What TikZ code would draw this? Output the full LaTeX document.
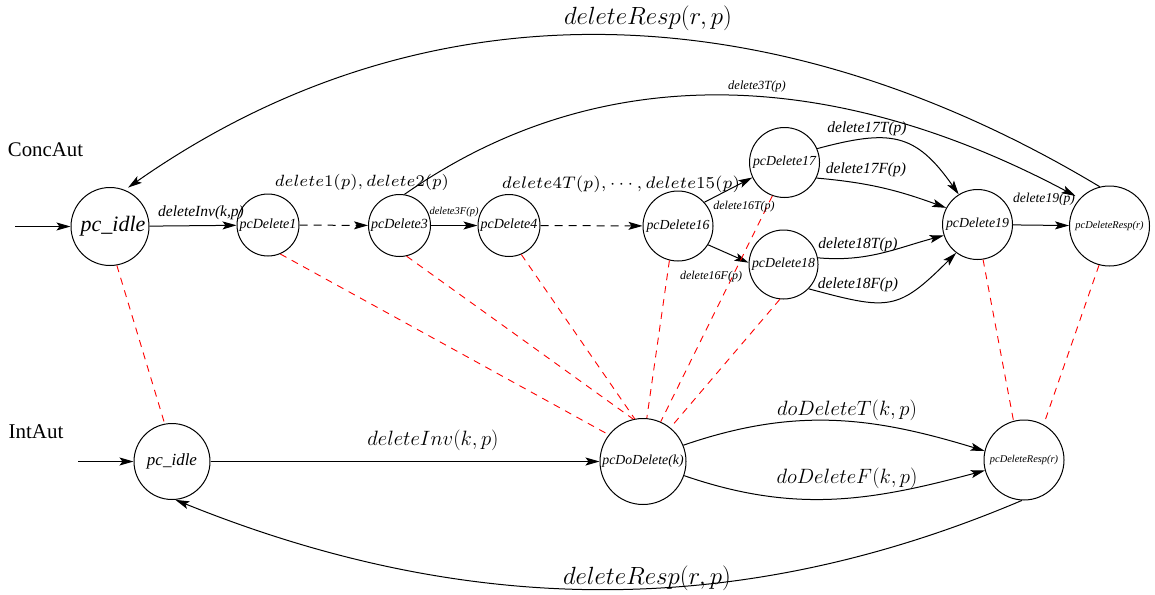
\documentclass[tikz,border=0pt]{standalone}
\usepackage[no-math]{fontspec}
\usepackage{graphicx}
\setmainfont{Liberation Serif}
\usetikzlibrary{arrows.meta}
\newcommand\fsz[1]{\fontsize{#1}{#1}\selectfont}
\begin{document}
\begin{tikzpicture}[x=1pt,y=-1pt,
  st/.style={circle,draw,line width=1pt,inner sep=0pt},
  tr/.style={-{Stealth[length=14pt,width=8pt,inset=3pt]},line width=1pt},
  dsh/.style={tr,dash pattern=on 8pt off 6pt},
  rd/.style={red,line width=0.9pt,dash pattern=on 7pt off 6pt},
  lb/.style={inner sep=0pt,font=\itshape}]
\useasboundingbox (0,0) rectangle (1155,594);
% states top
\node[st,minimum size=78pt] (i1) at (110,226.5) {\makebox[0pt]{\fsz{22}\itshape\hspace{6pt}pc\_idle}};
\node[st,minimum size=62pt] (d1) at (268,225) {\makebox[0pt]{\fsz{14}\itshape pcDelete1}};
\node[st,minimum size=62pt] (d3) at (399.5,225.5) {\makebox[0pt]{\fsz{14}\itshape pcDelete3}};
\node[st,minimum size=62pt] (d4) at (509,225.5) {\makebox[0pt]{\fsz{14}\itshape pcDelete4}};
\node[st,minimum size=70pt] (d16) at (678,226) {\makebox[0pt]{\fsz{13.8}\itshape pcDelete16}};
\node[st,minimum size=70pt] (d17) at (784.5,162.5) {\makebox[0pt]{\fsz{13.8}\itshape pcDelete17}};
\node[st,minimum size=69pt] (d18) at (783.5,264.5) {\makebox[0pt]{\fsz{13.8}\itshape pcDelete18}};
\node[st,minimum size=70pt] (d19) at (977.5,224.5) {\makebox[0pt]{\fsz{13.8}\itshape pcDelete19}};
\node[st,minimum size=80pt] (rt) at (1109.5,226) {\makebox[0pt]{\fsz{10.4}\itshape pcDeleteResp(r)}};
% states bottom
\node[st,minimum size=76pt] (i2) at (172,461.5) {\makebox[0pt]{\fsz{17}\itshape pc\_idle}};
\node[st,minimum size=86pt] (pd) at (643,461.5) {\makebox[0pt]{\fsz{13.8}\itshape pcDoDelete(k)}};
\node[st,minimum size=80pt] (rb) at (1024,460) {\makebox[0pt]{\fsz{10.4}\itshape pcDeleteResp(r)}};
% side labels
\node[inner sep=0pt,font=\fsz{20.8}] (ca) at (45.5,150) {ConcAut};
\node[inner sep=0pt,font=\fsz{21}] (ia) at (36,432) {IntAut};
% initial arrows
\coordinate (s1) at (15,226.5);
\coordinate (s2) at (78,461.5);
\draw[tr] (s1) -- (i1);
\draw[tr] (s2) -- (i2);
% top automaton edges
\draw[tr] (i1) -- (d1);
\draw[dsh] (d1) -- (d3);
\draw[tr] (d3) -- (d4);
\draw[dsh] (d4) -- (d16);
\draw[tr] (d16.42) -- (d17.205);
\draw[tr] (d16.-32) -- (d18.177);
\draw[tr] (d17.23) to[out=15,in=125,looseness=1.3] (d19.122);
\draw[tr] (d17.-26) to[out=-5,in=160] (d19.152);
\draw[tr] (d18.11) to[out=-5,in=195] (d19.198);
\draw[tr] (d18.-44) to[out=-15,in=225,looseness=1.4] (d19.233);
\draw[tr] (d19) -- (rt);
\draw[tr,shorten >=5pt] (d3.81) to[out=35,in=152,looseness=0.97] (rt.137);
\draw[tr,shorten >=4pt] (rt.104) to[out=149,in=35,looseness=0.98] (i1.68);
% bottom automaton edges
\draw[tr] (i2) -- (pd);
\draw[tr] (pd.22) to[out=19,in=163] (rb.167);
\draw[tr] (pd.-19) to[out=-19,in=195] (rb.195);
\draw[tr] (rb.-93) to[out=203,in=-22,looseness=0.94] (i2.-85);
% red correspondences
\draw[rd] (i1.-80) -- (i2.101);
\draw[rd] (d1.-67) -- (pd.142);
\draw[rd] (d3.-77) -- (pd.103);
\draw[rd] (d4.-67) -- (pd.101);
\draw[rd] (d16.-104) -- (pd.85);
\draw[rd] (d17.-110) -- (pd.66);
\draw[rd] (d18.-96) -- (pd.51);
\draw[rd] (d19.-81) -- (rb.105);
\draw[rd] (rt.-105) -- (rb.61);
% edge labels
\node[lb,font=\fsz{15.5}\itshape] (l1) at (201,213) {deleteInv(k,p)};
\node[inner sep=0pt] (l2) at (362,182) {\resizebox{174pt}{!}{\fsz{7}$delete1(p), delete2(p)$}};
\node[lb,font=\fsz{10.5}\itshape] (l3) at (454,212) {delete3F(p)};
\node[inner sep=0pt] (l4) at (621,184) {\resizebox{238pt}{!}{\fsz{7}$delete4T(p),\cdots,delete15(p)$}};
\node[lb,font=\fsz{12}\itshape] (l5) at (744,207) {delete16T(p)};
\node[lb,font=\fsz{12}\itshape] (l6) at (711,277) {delete16F(p)};
\node[lb,font=\fsz{15.5}\itshape] (l7) at (867,129) {delete17T(p)};
\node[lb,font=\fsz{15.5}\itshape] (l8) at (866,170) {delete17F(p)};
\node[lb,font=\fsz{15.5}\itshape] (l9) at (858,245) {delete18T(p)};
\node[lb,font=\fsz{15.5}\itshape] (l10) at (858,285) {delete18F(p)};
\node[lb,font=\fsz{13.6}\itshape] (l11) at (1044,199) {delete19(p)};
\node[lb,font=\fsz{12.5}\itshape] (l12) at (757,86) {delete3T(p)};
\node[inner sep=0pt,font=\fsz{23}] (l13) at (648,18) {$deleteResp(r,p)$};
\node[inner sep=0pt,font=\fsz{21.5}] (l14) at (433,440) {$deleteInv(k,p)$};
\node[inner sep=0pt,font=\fsz{22.6}] (l15) at (847,410) {$doDeleteT(k,p)$};
\node[inner sep=0pt,font=\fsz{22.6}] (l16) at (847,478) {$doDeleteF(k,p)$};
\node[inner sep=0pt,font=\fsz{23}] (l17) at (647,578) {$deleteResp(r,p)$};
\end{tikzpicture}
\end{document}
